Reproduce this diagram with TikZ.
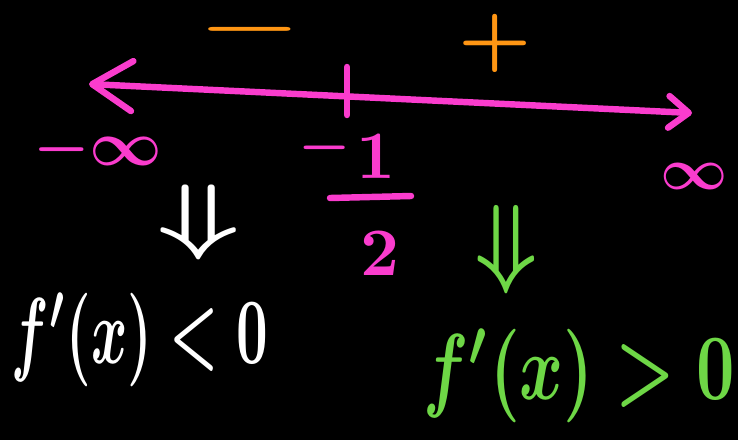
\documentclass[tikz,border=0pt]{standalone}
\usepackage{amssymb,tikz}
\usetikzlibrary{arrows.meta}

\definecolor{chalkpink}{RGB}{250,60,205}
\definecolor{chalkorange}{RGB}{255,150,20}
\definecolor{chalkgreen}{RGB}{110,215,70}
\newcommand{\flatsign}[1]{\smash{\raisebox{-2.5pt}{$#1$}}}

\begin{document}
\begin{tikzpicture}[x=0.03cm, y=-0.03cm,
  every node/.style={inner sep=0pt, font=\boldmath},
  pinktext/.style={text=chalkpink},
  signtext/.style={text=chalkorange},
  chalk/.style={line width=5.5pt, line cap=round, line join=round}]
\fill[black] (0,0) rectangle (738,440);
\useasboundingbox (0,0) rectangle (738,440);
\coordinate (lft) at (89,84);
\coordinate (rgt) at (692,113);
\draw[chalk, chalkpink, {Straight Barb[length=1.2cm, width=1.5cm, round]}-{Straight Barb[length=0.6cm, width=0.95cm, round]}] (lft) -- (rgt);
\coordinate (tickup) at (347,67);
\coordinate (tickdn) at (347,115);
\draw[chalk, chalkpink] (tickup) -- (tickdn);
\node[signtext, xscale=10, yscale=5.5] (minus) at (250,29) {\flatsign{-}};
\node[signtext, xscale=7, yscale=6.5] (plus) at (495,43) {\flatsign{+}};
\node[pinktext, scale=5.4] (ninf) at (98,150) {$-\infty$};
\node[pinktext, scale=5] (hminus) at (325,148) {\flatsign{-}};
\node[pinktext, scale=5.8] (hone) at (376,157) {$1$};
\coordinate (barl) at (330,198);
\coordinate (barr) at (411,196);
\draw[chalk, chalkpink] (barl) -- (barr);
\node[pinktext, scale=5.8] (htwo) at (380,254) {$2$};
\node[pinktext, scale=5] (pinf) at (694,176) {$\infty$};
\node[text=white, xscale=10, yscale=7.2] (wdown) at (199,222) {$\Downarrow$};
\node[text=white, xscale=4.7, yscale=8] (wres) at (140,340) {$f'(x)<0$};
\node[text=chalkgreen, xscale=7.5, yscale=8.5] (gdown) at (506,250) {$\Downarrow$};
\node[text=chalkgreen, xscale=5.7, yscale=8] (gres) at (579,376) {$f'(x)>0$};
\end{tikzpicture}
\end{document}
